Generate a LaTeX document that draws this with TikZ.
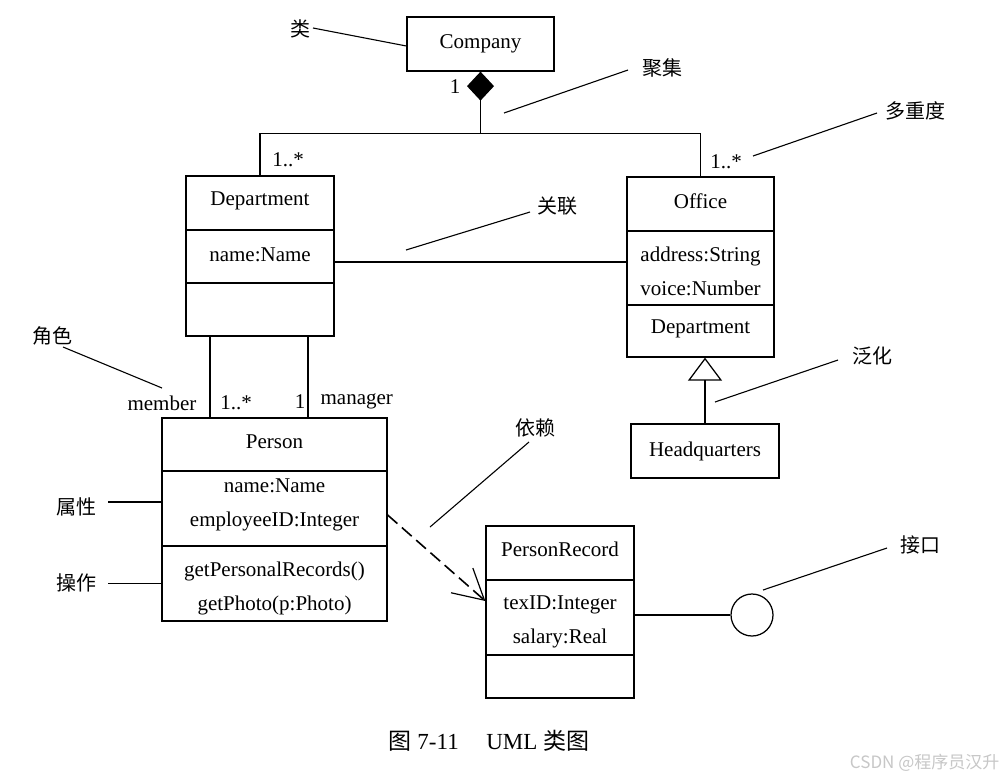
\documentclass[tikz,border=0pt]{standalone}
\usepackage{fontspec}
\setmainfont{Liberation Serif}
\newfontfamily\cjk{Noto Sans CJK SC}
\usetikzlibrary{arrows.meta}
\newcommand{\shiftline}[2]{\raisebox{#1}[\height][\depth]{#2}}
\begin{document}
\begin{tikzpicture}[x=1pt,y=-1pt,line width=1.25pt,
  comp/.style={draw,inner sep=0pt,align=center,font=\fontsize{21}{34}\selectfont},
  txt/.style={inner sep=0pt,font=\fontsize{21}{25}\selectfont},
  cn/.style={inner sep=0pt,font=\cjk\fontsize{20}{24}\selectfont},
  lead/.style={line width=1.1pt}]
\useasboundingbox[fill=white] (0,0) rectangle (1008,780);
% Company
\node[comp,minimum width=147pt,minimum height=54pt] (company) at (480.5,44) {Company};
% Department
\node[comp,minimum width=148pt,minimum height=54pt] (d1) at (260,203) {\shiftline{2pt}{Department}};
\node[comp,minimum width=148pt,minimum height=53pt] (d2) at (260,256.5) {\shiftline{2pt}{name:Name}};
\node[comp,minimum width=148pt,minimum height=53pt] (d3) at (260,309.5) {};
% Office
\node[comp,minimum width=147pt,minimum height=54pt] (o1) at (700.5,204) {\shiftline{3pt}{Office}};
\node[comp,minimum width=147pt,minimum height=74pt] (o2) at (700.5,268) {\shiftline{-3pt}{address:String}\\\shiftline{-3pt}{voice:Number}};
\node[comp,minimum width=147pt,minimum height=52pt] (o3) at (700.5,331) {\shiftline{2pt}{Department}};
% Headquarters
\node[comp,minimum width=148pt,minimum height=54pt] (hq) at (705,451) {Headquarters};
% Person
\node[comp,minimum width=225pt,minimum height=53pt] (p1) at (274.5,444.5) {\shiftline{3pt}{Person}};
\node[comp,minimum width=225pt,minimum height=75pt] (p2) at (274.5,508.5) {\shiftline{4pt}{name:Name}\\\shiftline{4pt}{employeeID:Integer}};
\node[comp,minimum width=225pt,minimum height=75pt] (p3) at (274.5,583.5) {\shiftline{-5pt}{getPersonalRecords()}\\\shiftline{-5pt}{getPhoto(p:Photo)}};
% PersonRecord
\node[comp,minimum width=148pt,minimum height=54pt] (r1) at (560,553) {\shiftline{4pt}{PersonRecord}};
\node[comp,minimum width=148pt,minimum height=75pt] (r2) at (560,617.5) {\shiftline{-4pt}{texID:Integer}\\\shiftline{-4pt}{salary:Real}};
\node[comp,minimum width=148pt,minimum height=43pt] (r3) at (560,676.5) {};
% interface
\node[draw,circle,minimum size=42pt,inner sep=0pt] (iface) at (752,615) {};

% aggregation
\draw[{Diamond[length=29pt,width=27pt]}-] (company.south) -- ++(0,62) coordinate (j);
\draw (d1.north) |- (j) -| (o1.north);
% association
\coordinate (ay) at (0,262);
\draw (d2.east |- ay) -- (o2.west |- ay);
% Department - Person
\coordinate (xa) at (210,0);
\coordinate (xb) at (308,0);
\draw (xa |- d3.south) -- (xa |- p1.north);
\draw (xb |- d3.south) -- (xb |- p1.north);
% generalization
\draw[-{Triangle[open,length=23pt,width=34pt]}] (hq.north) -- (hq.north |- o3.south);
% dependency
\draw[line width=1.6pt,dash pattern=on 13pt off 6pt,-{Straight Barb[length=30pt,width=33pt,line width=1.2pt]}] ([yshift=-6.5pt]p2.east) -- ([yshift=16.5pt]r2.west);
% interface
\draw (r2.east |- iface.west) -- (iface.west);

% multiplicities and roles
\node[txt] (m1) at (455,87) {1};
\node[txt] (m2) at (288,160) {1..*};
\node[txt] (m3) at (726,162) {1..*};
\node[txt,anchor=east] (rm) at (197,403) {member};
\node[txt] (m4) at (236,403) {1..*};
\node[txt] (m5) at (300,402) {1};
\node[txt,anchor=west] (rg) at (320,401) {manager};

% annotations
\node[cn] (lc) at (300,29) {类};
\draw[lead] (313,28) -- (company.west |- 0,46);
\node[cn] (la) at (662,68) {聚集};
\draw[lead] (504,113) -- (628,70);
\node[cn] (lm) at (915,111) {多重度};
\draw[lead] (753,156) -- (877,113);
\node[cn] (ls) at (557,206) {关联};
\draw[lead] (406,250) -- (530,212);
\node[cn] (lr) at (52,336) {角色};
\draw[lead] (63,347) -- (162,388);
\node[cn] (lat) at (76,507) {属性};
\draw[lead] ([yshift=6.5pt]p2.west) -- ++(-53,0);
\node[cn] (lop) at (76,583) {操作};
\draw[lead] (p3.west) -- ++(-53,0);
\node[cn] (lg) at (872,356) {泛化};
\draw[lead] (715,402) -- (838,360);
\node[cn] (ld) at (535,428) {依赖};
\draw[lead] (430,527) -- (529,442);
\node[cn] (li) at (920,545) {接口};
\draw[lead] (763,590) -- (887,548);

% caption
\node[inner sep=0pt,font=\fontsize{23}{27}\selectfont] (cap) at (489,741) {{\cjk 图} 7-11\hspace{1.2em}UML {\cjk 类图}};
\node[inner sep=0pt,anchor=east,text=black!22,font=\cjk\fontsize{17}{20}\selectfont] (wm) at (1000,763) {CSDN @程序员汉升};
\end{tikzpicture}
\end{document}
